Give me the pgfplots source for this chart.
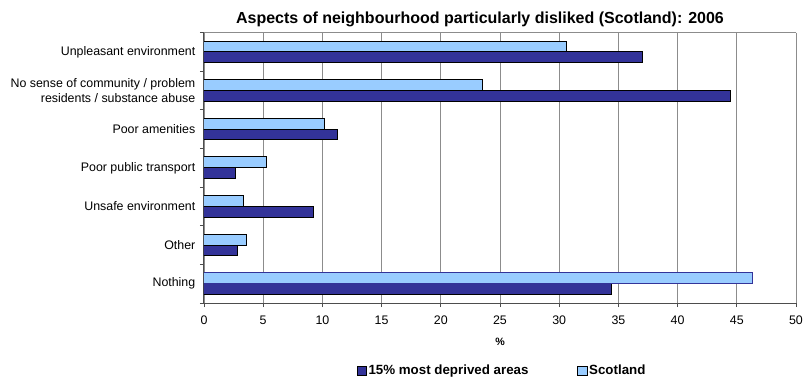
\documentclass[border=0pt]{standalone}
\usepackage{pgfplots}
\pgfplotsset{compat=1.18}
\usepackage{fontspec}
\setmainfont{Liberation Sans}

\definecolor{deprived}{HTML}{333399}
\definecolor{scotland}{HTML}{99CCFF}
\definecolor{gridgray}{HTML}{8C8C8C}
\definecolor{axisgray}{HTML}{4D4D4D}

% Categories run top to bottom: 0 = Unpleasant environment ... 6 = Nothing
\begin{document}
\begin{tikzpicture}[x=0.75pt,y=0.75pt]
\useasboundingbox (-204,-78) rectangle (599,303);
\begin{axis}[
  at={(0,0)}, anchor=south west,
  scale only axis,
  width=444pt, height=202.8pt,
  xbar,
  y dir=reverse,
  xmin=0, xmax=50,
  ymin=-0.5, ymax=6.5,
  xtick={0,5,...,50},
  ytick={0,...,6},
  yticklabels={Unpleasant environment,
    {No sense of community / problem\\residents / substance abuse},
    Poor amenities, Poor public transport, Unsafe environment, Other, Nothing},
  yticklabel style={align=right, font=\fontsize{9.3}{11.5}\selectfont},
  xticklabel style={font=\fontsize{9.3}{11}\selectfont, yshift=-3.4pt},
  /pgf/number format/assume math mode=true,
  major y tick style={draw=none},
  minor ytick={0.5,1.5,...,5.5,-0.5,6.5},
  tick align=outside,
  major tick length=3pt,
  minor tick length=3pt,
  tick style={axisgray, line width=0.6pt},
  axis x line*=bottom,
  axis y line*=left,
  axis line style={axisgray, line width=0.75pt, -},
  xmajorgrids,
  grid style={gridgray, line width=0.5pt},
  xlabel={\textbf{\%}},
  xlabel style={font=\fontsize{8}{10}\selectfont, yshift=-2.8pt},
  title={\textbf{Aspects of neighbourhood particularly disliked (Scotland): 2006}},
  title style={font=\fontsize{12}{14}\selectfont, xshift=-15pt, yshift=-5.5pt},
  bar width=0.28,
  legend columns=2,
  legend style={
    at={(axis description cs:0.504,-0.2515)}, anchor=center,
    draw=none, fill=none,
    font=\bfseries\fontsize{10}{12}\selectfont,
    /tikz/every even column/.append style={column sep=34.5pt},
    /tikz/every odd column/.append style={column sep=-1pt},
    inner sep=0pt,
  },
  legend image code/.code={
    \draw[#1, draw=black, line width=0.75pt] (0pt,-3.6pt) rectangle (7.2pt,3.6pt);
  },
]
% outer frame of the plot area (top and right edges)
\draw[gridgray, line width=0.6pt] (axis description cs:0,1) -- (axis description cs:1,1) -- (axis description cs:1,0);

\addplot[fill=deprived, draw=black, line width=0.75pt, bar shift=0.14]
  coordinates {(37.0,0) (44.5,1) (11.3,2) (2.7,3) (9.25,4) (2.8,5) (34.4,6)};
\addlegendentry{15\% most deprived areas}

\addplot[fill=scotland, draw=black, line width=0.75pt, bar shift=-0.14]
  coordinates {(30.6,0) (23.5,1) (10.2,2) (5.25,3) (3.3,4) (3.6,5)};
\addlegendentry{Scotland}

\addplot[fill=scotland, draw=deprived, line width=0.75pt, bar shift=-0.14, forget plot]
  coordinates {(46.3,6)};
\end{axis}
\end{tikzpicture}
\end{document}
